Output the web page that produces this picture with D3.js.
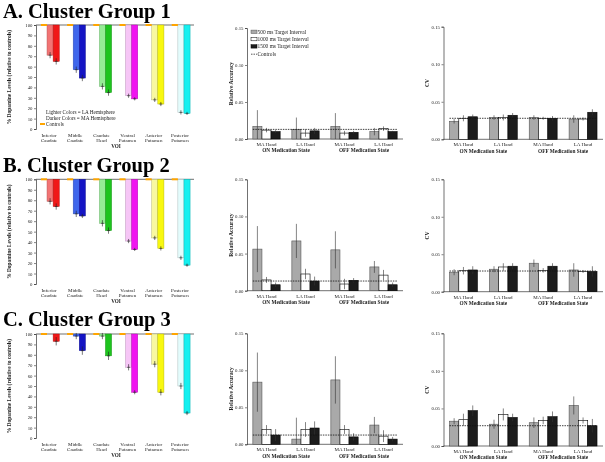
<!DOCTYPE html>
<html><head><meta charset="utf-8">
<script src="https://cdn.jsdelivr.net/npm/d3@7"></script>
<style>body{margin:0;background:#fff}svg{display:block;will-change:transform}text{font-family:"Liberation Serif","Times New Roman",serif}</style>
</head><body><svg id="c" width="605" height="462"></svg>
<script>
// ---------- DATA ----------
const voiCategories = ["Inferior Caudate","Middle Caudate","Caudate Head","Ventral Putamen","Anterior Putamen","Posterior Putamen"];
const lightColors = ["#f27474","#3f66ec","#96ec96","#f6c6f6","#f8f8a0","#e4fcfc"];
const darkColors  = ["#f01818","#1414c4","#1ec41e","#f014f0","#f8f810","#14f0f0"];
const controlsValue = [100,100,100,100,100,100];
const g1LA = [71,57,41,32,28,16], g1LAErr = [3,3,3,2,2,2];
const g1MA = [65,49,35,29,24,15], g1MAErr = [3,3,3,1.5,2,1.5];
const g2LA = [79,67,58,41,44,25], g2LAErr = [3,3,3,2,2,2];
const g2MA = [74,65,51,33,34,18], g2MAErr = [3,2,3,1.5,2,1.5];
const g3LA = [100,98,98,68,71,50], g3LAErr = [0,3,3,3,3,3];
const g3MA = [93,84,79,44,44,24], g3MAErr = [4,4,4,2,3,2];
const leftTicks = [0,10,20,30,40,50,60,70,80,90,100];

const handGroups = ["MA Hand","LA Hand","MA Hand","LA Hand"];
const medStates = ["ON Medication State","OFF Medication State"];
const intervals = ["500 ms Target Interval","1000 ms Target Interval","1500 ms Target Interval"];
const rightTicks = [0,0.05,0.10,0.15];

const raA500 = [0.017,0.013,0.017,0.010], raA500Err = [0.022,0.016,0.018,0.005];
const raA1000 = [0.012,0.008,0.008,0.014], raA1000Err = [0.003,0.005,0.003,0.003];
const raA1500 = [0.010,0.011,0.009,0.010], raA1500Err = [0.002,0.004,0.002,0.001];
const raAControl = 0.013;
const raB500 = [0.056,0.067,0.055,0.032], raB500Err = [0.031,0.023,0.025,0.008];
const raB1000 = [0.0145,0.0225,0.009,0.021], raB1000Err = [0.004,0.007,0.007,0.007];
const raB1500 = [0.008,0.013,0.014,0.008], raB1500Err = [0.003,0.006,0.003,0.003];
const raBControl = 0.013;
const raC500 = [0.084,0.007,0.087,0.026], raC500Err = [0.040,0.029,0.032,0.011];
const raC1000 = [0.020,0.020,0.020,0.011], raC1000Err = [0.006,0.010,0.006,0.008];
const raC1500 = [0.0125,0.022,0.010,0.007], raC1500Err = [0.008,0.009,0.005,0.003];
const raCControl = 0.0125;

const cvA500 = [0.024,0.029,0.029,0.027], cvA500Err = [0.003,0.003,0.003,0.005];
const cvA1000 = [0.028,0.029,0.028,0.027], cvA1000Err = [0.004,0.004,0.002,0.002];
const cvA1500 = [0.030,0.032,0.028,0.036], cvA1500Err = [0.003,0.003,0.003,0.004];
const cvAControl = 0.028;
const cvB500 = [0.026,0.030,0.038,0.029], cvB500Err = [0.004,0.004,0.005,0.009];
const cvB1000 = [0.028,0.033,0.0285,0.027], cvB1000Err = [0.005,0.005,0.003,0.002];
const cvB1500 = [0.029,0.034,0.034,0.027], cvB1500Err = [0.005,0.004,0.004,0.007];
const cvBControl = 0.0276;
const cvC500 = [0.033,0.029,0.031,0.054], cvC500Err = [0.004,0.006,0.007,0.012];
const cvC1000 = [0.035,0.042,0.034,0.034], cvC1000Err = [0.008,0.008,0.005,0.004];
const cvC1500 = [0.047,0.038,0.039,0.027], cvC1500Err = [0.007,0.005,0.007,0.009];
const cvCControl = 0.027;

const titles = ["A. Cluster Group 1","B. Cluster Group 2","C. Cluster Group 3"];

// ---------- LAYOUT ----------
const svg = d3.select("#c");
const rows = [
  {title:17.5, left:[25,129], mid:[28,139], right:[26.7,139.3], LA:g1LA, LAe:g1LAErr, MA:g1MA, MAe:g1MAErr,
   ra:[[raA500,raA500Err],[raA1000,raA1000Err],[raA1500,raA1500Err]], raC:raAControl,
   cv:[[cvA500,cvA500Err],[cvA1000,cvA1000Err],[cvA1500,cvA1500Err]], cvC:cvAControl},
  {title:171.5, left:[179.3,284], mid:[179.3,290.7], right:[179.3,291.7], LA:g2LA, LAe:g2LAErr, MA:g2MA, MAe:g2MAErr,
   ra:[[raB500,raB500Err],[raB1000,raB1000Err],[raB1500,raB1500Err]], raC:raBControl,
   cv:[[cvB500,cvB500Err],[cvB1000,cvB1000Err],[cvB1500,cvB1500Err]], cvC:cvBControl},
  {title:326, left:[334,438], mid:[333.3,444.3], right:[333.3,446], LA:g3LA, LAe:g3LAErr, MA:g3MA, MAe:g3MAErr,
   ra:[[raC500,raC500Err],[raC1000,raC1000Err],[raC1500,raC1500Err]], raC:raCControl,
   cv:[[cvC500,cvC500Err],[cvC1000,cvC1000Err],[cvC1500,cvC1500Err]], cvC:cvCControl}
];

const intervalFill = ["#a9a9a9","#ffffff","#1c1c1c"];
const intervalStroke = ["#555","#000","#000"];

function leftPanel(r, idx){
  const g = svg.append("g");
  const x = d3.scaleBand().domain(voiCategories).range([37,194]).paddingInner(0.3).paddingOuter(0.15);
  const sub = d3.scaleBand().domain(["C","LA","MA"]).range([0,x.bandwidth()]);
  const y = d3.scaleLinear().domain([0,100]).range([r.left[1], r.left[0]]);
  const ax = g.append("g").attr("transform","translate(36,0)").call(d3.axisLeft(y).tickValues(leftTicks).tickSize(2).tickPadding(1.5));
  ax.select(".domain").attr("stroke","#333").attr("stroke-width",0.7);
  ax.selectAll(".tick line").attr("stroke","#333").attr("stroke-width",0.6);
  ax.selectAll("text").attr("font-size",4.8).attr("fill","#222");
  g.append("line").attr("x1",36).attr("x2",194).attr("y1",y(100)).attr("y2",y(100)).attr("stroke","#333").attr("stroke-width",0.7);
  voiCategories.forEach((cat,i)=>{
    const bx = x(cat);
    [["LA",r.LA[i],r.LAe[i],lightColors[i]],["MA",r.MA[i],r.MAe[i],darkColors[i]]].forEach(([k,v,e,col])=>{
      const x0 = bx + sub(k);
      g.append("rect").attr("x",x0).attr("y",y(100)).attr("width",sub.bandwidth()).attr("height",Math.max(0,y(v)-y(100)))
        .attr("fill",col).attr("stroke",d3.color(col).darker(0.8)).attr("stroke-width",0.5);
      if(e>0){
        const cx = x0 + sub.bandwidth()/2;
        g.append("line").attr("x1",cx).attr("x2",cx).attr("y1",y(v+e)).attr("y2",y(v-e)).attr("stroke","#222").attr("stroke-width",0.6);
        g.append("line").attr("x1",cx-1.5).attr("x2",cx+1.5).attr("y1",y(v)).attr("y2",y(v)).attr("stroke","#222").attr("stroke-width",0.6);
      }
    });
    g.append("rect").attr("x",bx+sub("C")).attr("y",y(controlsValue[i])-1).attr("width",sub.bandwidth()).attr("height",2).attr("fill","#ffa500");
    const parts = cat.split(" ");
    const t = g.append("text").attr("x",bx+x.bandwidth()/2-1).attr("y",r.left[1]+7.5).attr("text-anchor","middle").attr("font-size",5).attr("fill","#222");
    parts.forEach((p,j)=> t.append("tspan").attr("x",bx+x.bandwidth()/2-1).attr("dy", j===0?0:5.2).text(p));
  });
  g.append("text").attr("x",116).attr("y",r.left[1]+18.5).attr("text-anchor","middle").attr("font-size",5.2).attr("font-weight","bold").attr("fill","#222").text("VOI");
  g.append("text").attr("transform",`translate(10.5,${(r.left[0]+r.left[1])/2}) rotate(-90)`).attr("text-anchor","middle")
    .attr("font-size",5.4).attr("font-weight","bold").attr("fill","#222").text("% Dopamine Levels (relative to controls)");
  svg.append("text").attr("x",3).attr("y",r.title).attr("font-size",20.5).attr("font-weight","bold").attr("fill","#000").text(titles[idx]);
  if(idx===0){
    const L = svg.append("g").attr("font-size",5.2).attr("fill","#222");
    L.append("text").attr("x",46).attr("y",113.5).text("Lighter Colors = LA Hemisphere");
    L.append("text").attr("x",46).attr("y",119.5).text("Darker Colors = MA Hemisphere");
    L.append("rect").attr("x",40).attr("y",123).attr("width",5).attr("height",2).attr("fill","#ffa500");
    L.append("text").attr("x",46).attr("y",125.7).text("Controls");
  }
}

function rightPanel(x0,x1,yr,series,ctrl,label,labelX,legend){
  const g = svg.append("g");
  const x = d3.scaleBand().domain(d3.range(4)).range([x0,x1]).paddingInner(0.3).paddingOuter(0.15);
  const sub = d3.scaleBand().domain([0,1,2]).range([0,x.bandwidth()]);
  const y = d3.scaleLinear().domain([0,0.15]).range([yr[1],yr[0]]);
  const ax = g.append("g").attr("transform",`translate(${x0},0)`).call(d3.axisLeft(y).tickValues(rightTicks).tickFormat(d3.format(".2f")).tickSize(2).tickPadding(1.5));
  ax.select(".domain").attr("stroke","#333").attr("stroke-width",0.7);
  ax.selectAll(".tick line").attr("stroke","#333").attr("stroke-width",0.6);
  ax.selectAll("text").attr("font-size",4.8).attr("fill","#222");
  g.append("line").attr("x1",x0).attr("x2",x1).attr("y1",y(0)).attr("y2",y(0)).attr("stroke","#333").attr("stroke-width",0.7);
  series.forEach(([vals,errs],s)=>{
    vals.forEach((v,i)=>{
      const bx = x(i)+sub(s);
      g.append("rect").attr("x",bx).attr("y",y(v)).attr("width",sub.bandwidth()).attr("height",y(0)-y(v))
        .attr("fill",intervalFill[s]).attr("stroke",intervalStroke[s]).attr("stroke-width",0.6);
      const cx = bx+sub.bandwidth()/2, e = errs[i];
      g.append("line").attr("x1",cx).attr("x2",cx).attr("y1",y(v+e)).attr("y2",y(Math.max(0,v-e))).attr("stroke","#333").attr("stroke-width",0.6);
    });
  });
  g.append("line").attr("x1",x(0)).attr("x2",x(3)+x.bandwidth()).attr("y1",y(ctrl)).attr("y2",y(ctrl))
    .attr("stroke","#111").attr("stroke-width",0.8).attr("stroke-dasharray","1.5,1");
  handGroups.forEach((h,i)=>{
    g.append("text").attr("x",x(i)+x.bandwidth()/2).attr("y",yr[1]+6.8).attr("text-anchor","middle").attr("font-size",5).attr("fill","#222").text(h);
  });
  medStates.forEach((m,k)=>{
    const cx = (x(2*k)+x(2*k+1)+x.bandwidth())/2;
    g.append("text").attr("x",cx).attr("y",yr[1]+13.3).attr("text-anchor","middle").attr("font-size",5.3).attr("font-weight","bold").attr("fill","#222").text(m);
  });
  g.append("text").attr("transform",`translate(${labelX},${(yr[0]+yr[1])/2}) rotate(-90)`).attr("text-anchor","middle")
    .attr("font-size",5.6).attr("font-weight","bold").attr("fill","#222").text(label);
  if(legend){
    const L = g.append("g").attr("font-size",5.4).attr("fill","#222");
    intervals.forEach((t,s)=>{
      const yy = yr[0]+4.3+s*7.3;
      L.append("rect").attr("x",x0+4).attr("y",yy-2.2).attr("width",6).attr("height",3.4).attr("fill",intervalFill[s]).attr("stroke",intervalStroke[s]).attr("stroke-width",0.5);
      L.append("text").attr("x",x0+10.5).attr("y",yy+1.5).text(t);
    });
    const yy = yr[0]+4.3+3*7.3;
    L.append("line").attr("x1",x0+4).attr("x2",x0+10).attr("y1",yy).attr("y2",yy).attr("stroke","#111").attr("stroke-width",0.7).attr("stroke-dasharray","1.5,1");
    L.append("text").attr("x",x0+10.5).attr("y",yy+1.5).text("Controls");
  }
}

rows.forEach((r,idx)=>{
  leftPanel(r,idx);
  rightPanel(247,403,r.mid,r.ra,r.raC,"Relative Accuracy",232.5,idx===0);
  rightPanel(443.5,603,r.right,r.cv,r.cvC,"CV",428.5,false);
});
</script></body></html>
